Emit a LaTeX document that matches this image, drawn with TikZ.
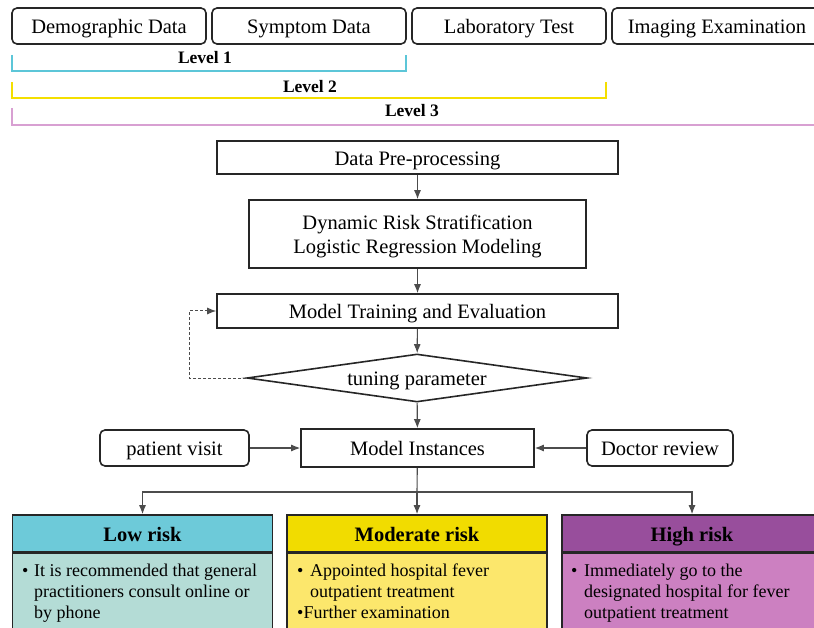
\documentclass[tikz,border=0pt]{standalone}
\usepackage{fontspec}
\setmainfont{Liberation Serif}
\usetikzlibrary{arrows.meta,shapes.geometric}
\definecolor{lvone}{HTML}{5CC6D8}
\definecolor{lvtwo}{HTML}{F4DF00}
\definecolor{lvthree}{HTML}{D8A0D2}
\definecolor{lowhead}{HTML}{6DCAD9}
\definecolor{lowbody}{HTML}{B4DCD6}
\definecolor{modhead}{HTML}{F1DC00}
\definecolor{modbody}{HTML}{FCE76C}
\definecolor{highhead}{HTML}{984E9C}
\definecolor{highbody}{HTML}{CC80C1}
\begin{document}
\begin{tikzpicture}[x=1pt,y=-1pt,
  box/.style={draw=black!85,line width=1.6pt,inner sep=0pt,align=center,
    text height=15.5pt,text depth=0pt,
    font=\fontsize{20.5}{23}\selectfont},
  rbox/.style={box,rounded corners=5pt},
  arr/.style={draw=black!70,line width=1.1pt,-{Latex[length=9pt,width=7pt]}},
  dasharr/.style={draw=black!70,line width=1pt,dash pattern=on 3pt off 2pt,-{Latex[length=9pt,width=7pt]}},
  lvl/.style={line width=2pt},
  lvlabel/.style={inner sep=0pt,font=\fontsize{17.5}{20}\selectfont\bfseries},
  head/.style={draw=black!85,line width=1.6pt,inner sep=0pt,minimum width=260pt,minimum height=37pt,
    text height=15.5pt,text depth=0pt,
    font=\fontsize{20.5}{23}\selectfont\bfseries},
  body/.style={draw=black!85,line width=1.6pt,inner sep=0pt,minimum width=260pt,minimum height=84pt},
  btext/.style={inner sep=0pt,anchor=north west,align=left,font=\fontsize{18}{21}\selectfont}
]
\useasboundingbox (0,0) rectangle (814,628);

% top data boxes
\node[rbox,minimum width=194pt,minimum height=36pt] (demo) at (109,26) {Demographic Data};
\node[rbox,minimum width=194pt,minimum height=36pt] (symp) at (309,26) {Symptom Data};
\node[rbox,minimum width=194pt,minimum height=36pt] (lab) at (509,26) {Laboratory Test};
\node[rbox,minimum width=210pt,minimum height=36pt] (img) at (717,26) {Imaging Examination};

% level brackets
\draw[lvl,lvone] (12,55) -- (12,71) -- (406,71) -- (406,55);
\node[lvlabel] (l1) at (205,57.5) {Level 1};
\draw[lvl,lvtwo] (12,82) -- (12,98) -- (606,98) -- (606,82);
\node[lvlabel] (l2) at (310,86.5) {Level 2};
\draw[lvl,lvthree] (12,108) -- (12,125) -- (830,125);
\node[lvlabel] (l3) at (412,110.5) {Level 3};

% main flow
\node[box,minimum width=401pt,minimum height=33pt] (pre) at (417.5,157.5) {Data Pre-processing};
\node[box,minimum width=337pt,minimum height=68pt,text height=39pt,text depth=0pt,
  font=\fontsize{20.5}{23.5}\selectfont] (dyn) at (417.5,234)
  {Dynamic Risk Stratification\\Logistic Regression Modeling};
\node[box,minimum width=401pt,minimum height=34pt] (train) at (417.5,311) {Model Training and Evaluation};
\node[box,diamond,aspect=7,minimum width=340pt,minimum height=48pt] (tune) at (417,378) {tuning parameter};
\node[box,minimum width=233pt,minimum height=38pt] (inst) at (417.5,448) {Model Instances};
\node[rbox,minimum width=149pt,minimum height=36pt] (pat) at (174.5,448) {patient visit};
\node[rbox,minimum width=146pt,minimum height=36pt] (doc) at (660,448) {Doctor review};

\draw[arr] (pre) -- (dyn);
\draw[arr] (dyn) -- (train);
\draw[arr] (train) -- (tune);
\draw[arr] (tune) -- (inst);
\draw[dasharr] (tune.west) -- ++(-57,0) |- (train.west);
\draw[arr] (pat) -- (inst);
\draw[arr] (doc) -- (inst);

% risk boxes
\node[head,fill=lowhead] (lowh) at (142.5,533.5) {Low risk};
\node[body,fill=lowbody,anchor=north] (lowb) at (lowh.south) {};
\node[head,fill=modhead] (modh) at (417,533.5) {Moderate risk};
\node[body,fill=modbody,anchor=north] (modb) at (modh.south) {};
\node[head,fill=highhead] (highh) at (692,533.5) {High risk};
\node[body,fill=highbody,anchor=north] (highb) at (highh.south) {};

\node[btext] (lowt) at (22,563.5) {\makebox[12pt][l]{•}It is recommended that general\\
  \hspace*{12pt}practitioners consult online or\\\hspace*{12pt}by phone};
\node[btext] (modt) at (297,563.5) {\makebox[13pt][l]{•}Appointed hospital fever\\
  \hspace*{13pt}outpatient treatment\\•Further examination};
\node[btext] (hight) at (571,563.5) {\makebox[13pt][l]{•}Immediately go to the\\
  \hspace*{13pt}designated hospital for fever\\\hspace*{13pt}outpatient treatment};

% branching
\coordinate (j) at (417,492);
\draw[draw=black!70,line width=1.1pt] (inst) -- (j);
\draw[arr] (j) -| (lowh.north);
\draw[arr] (j) -- (modh.north);
\draw[arr] (j) -| (highh.north);
\end{tikzpicture}
\end{document}
